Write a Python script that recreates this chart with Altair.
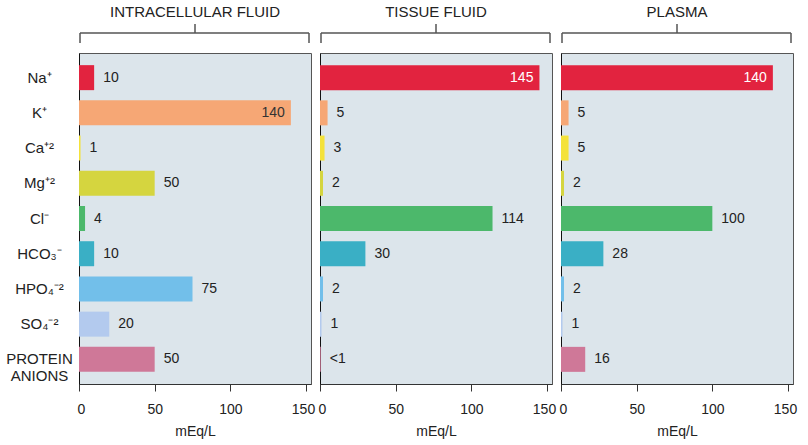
import altair as alt
import pandas as pd

ions = ["Na⁺", "K⁺", "Ca⁺²", "Mg⁺²", "Cl⁻", "HCO₃⁻", "HPO₄⁻²", "SO₄⁻²", "PROTEIN ANIONS"]
fluids = ["INTRACELLULAR FLUID", "TISSUE FLUID", "PLASMA"]

intracellular = [10, 140, 1, 50, 4, 10, 75, 20, 50]
tissue = [145, 5, 3, 2, 114, 30, 2, 1, 0.5]
plasma = [140, 5, 5, 2, 100, 28, 2, 1, 16]

intracellular_labels = ["10", "140", "1", "50", "4", "10", "75", "20", "50"]
tissue_labels = ["145", "5", "3", "2", "114", "30", "2", "1", "<1"]
plasma_labels = ["140", "5", "5", "2", "100", "28", "2", "1", "16"]

bar_colors = ["#e2233f", "#f6a775", "#f4e23a", "#d5d53f", "#4cb86b",
              "#3aafc5", "#72bfea", "#b3caee", "#cf7898"]
inside_text_colors = ["#ffffff", "#333333", "#333333", "#333333", "#333333",
                      "#333333", "#333333", "#333333", "#333333"]

rows = []
for fluid, vals, labs in zip(fluids,
                             [intracellular, tissue, plasma],
                             [intracellular_labels, tissue_labels, plasma_labels]):
    for i, ion in enumerate(ions):
        rows.append({
            "fluid": fluid,
            "ion": ion,
            "value": vals[i],
            "label": labs[i],
            "inside": vals[i] >= 130,
            "tcolor": inside_text_colors[i],
        })
df = pd.DataFrame(rows)

W = 232
H = 331
FONT = "Liberation Sans"

helper = pd.DataFrame({"k": [0]})


def panel(fluid, first):
    d = df[df.fluid == fluid]
    if first:
        yaxis = alt.Axis(title=None, ticks=False, domainColor="#111", labelAlign="center",
                         labelPadding=40, labelFontSize=15, labelColor="#222",
                         labelLineHeight=17, minExtent=73, maxExtent=73, labelFont=FONT,
                         labelExpr="datum.label == 'PROTEIN ANIONS' ? ['PROTEIN', 'ANIONS'] : datum.label")
    else:
        yaxis = alt.Axis(title=None, ticks=False, labels=False, domainColor="#111",
                         minExtent=0, maxExtent=0)
    y = alt.Y("ion:N", sort=ions,
              scale=alt.Scale(paddingInner=0.29, paddingOuter=0.345), axis=yaxis)
    x = alt.X("value:Q", scale=alt.Scale(domain=[0, 153.3], nice=False),
              axis=alt.Axis(values=[0, 50, 100, 150], title="mEq/L", grid=False,
                            tickSize=7, tickColor="#333", domainColor="#333",
                            labelPadding=11, labelFlush=False, labelFontSize=14,
                            labelOffset={"condition": [
                                {"test": "datum.value == 150", "value": -3},
                                {"test": "datum.value == 0", "value": 2}],
                                "value": 0},
                            labelColor="#222", titleFontSize=14, titleFontWeight="normal",
                            titleColor="#222", titlePadding=8, labelFont=FONT,
                            titleFont=FONT))
    base = alt.Chart(d)
    bars = base.mark_bar().encode(
        x=x, y=y,
        color=alt.Color("ion:N", scale=alt.Scale(domain=ions, range=bar_colors), legend=None),
    )
    outside = base.transform_filter("!datum.inside").mark_text(
        align="left", dx=9, fontSize=14, color="#222", font=FONT
    ).encode(x="value:Q", y=alt.Y("ion:N", sort=ions), text="label:N")
    inside = base.transform_filter("datum.inside").mark_text(
        align="right", dx=-6, fontSize=14, font=FONT
    ).encode(x="value:Q", y=alt.Y("ion:N", sort=ions), text="label:N",
             color=alt.Color("tcolor:N", scale=None))

    h = alt.Chart(helper)
    br_h = h.mark_rule(color="#555", strokeWidth=1.5).encode(
        x=alt.value(1), x2=alt.value(W - 2), y=alt.value(-20))
    br_l = h.mark_rule(color="#555", strokeWidth=1.5).encode(
        x=alt.value(1), y=alt.value(-20), y2=alt.value(-10))
    br_r = h.mark_rule(color="#555", strokeWidth=1.5).encode(
        x=alt.value(W - 2), y=alt.value(-20), y2=alt.value(-10))
    br_c = h.mark_rule(color="#555", strokeWidth=1.5).encode(
        x=alt.value(W / 2), y=alt.value(-29), y2=alt.value(-20))
    title = h.mark_text(fontSize=15, color="#222", font=FONT, baseline="middle").encode(
        x=alt.value(W / 2), y=alt.value(-41), text=alt.value(fluid))

    return alt.layer(bars, outside, inside, br_h, br_l, br_r, br_c, title).properties(
        width=W, height=H)


chart = alt.hconcat(
    panel(fluids[0], True), panel(fluids[1], False), panel(fluids[2], False),
    spacing=9, bounds="flush",
).properties(
    padding={"left": 5, "top": 4, "right": 5, "bottom": 5},
    background="white",
).configure(
    font=FONT
).configure_view(
    fill="#dce5eb", stroke="#555", strokeWidth=1
)

chart.save("out.html", embed_options={"renderer": "svg", "actions": False})
